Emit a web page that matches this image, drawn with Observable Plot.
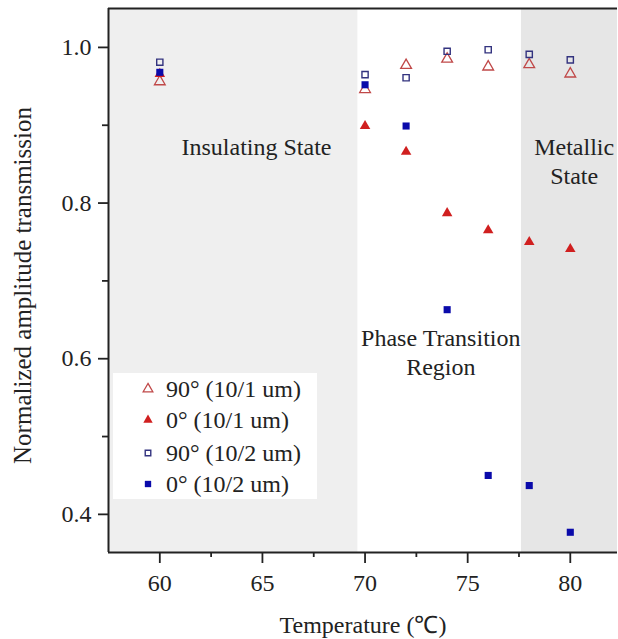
<!DOCTYPE html>
<html><head><meta charset="utf-8">
<script src="https://cdn.jsdelivr.net/npm/d3@7"></script>
<script src="https://cdn.jsdelivr.net/npm/@observablehq/plot@0.6"></script>
<style>
body{margin:0;background:#fff;}
#wrap{position:relative;width:618px;height:639px;font-family:"Liberation Serif","Times New Roman",serif;}
#legend{position:absolute;left:113px;top:373px;width:204px;height:126px;background:#fff;}
.row{position:absolute;left:0;height:30px;display:flex;align-items:center;font-size:24px;color:#222;white-space:nowrap;}
.row svg{margin-left:25px;margin-right:8px;}
</style></head><body><div id="wrap"><div id="legend"></div></div>
<script>
// ---- data ----
const temperatures = [60, 70, 72, 74, 76, 78, 80];
const open90_1um  = [0.956, 0.946, 0.977, 0.985, 0.975, 0.978, 0.966];
const solid0_1um  = [0.966, 0.899, 0.866, 0.787, 0.765, 0.750, 0.741];
const open90_2um  = [0.981, 0.965, 0.961, 0.995, 0.997, 0.991, 0.984];
const solid0_2um  = [0.968, 0.952, 0.899, 0.663, 0.450, 0.437, 0.377];
const seriesNames = ["90° (10/1 um)", "0° (10/1 um)", "90° (10/2 um)", "0° (10/2 um)"];
const xTicks = [60, 65, 70, 75, 80];
const xMinorTicks = [62.5, 67.5, 72.5, 77.5];
const yTicks = [0.4, 0.6, 0.8, 1.0];
const yMinorTicks = [0.5, 0.7, 0.9];
const regionStarts = [57.5, 77.62];
const regionEnds = [69.65, 82.3];
const regionFills = ["#efefef", "#e6e6e6"];
const annotationText = ["Insulating State", "Metallic\nState", "Phase Transition\nRegion"];
const annotationX = [64.71, 80.19, 73.69];
const annotationY = [0.874, 0.8545, 0.6096];

// ---- build tables ----
const styles = [
  {symbol: "triangle", fill: "none", stroke: "#c04848", r: 4.0, sw: 1.3},
  {symbol: "triangle", fill: "#d01f1f", stroke: "none", r: 3.9, sw: 0},
  {symbol: "square", fill: "none", stroke: "#33337f", r: 3.5, sw: 1.4},
  {symbol: "square", fill: "#0a0aaa", stroke: "none", r: 4.0, sw: 0}
];
const allValues = [open90_1um, solid0_1um, open90_2um, solid0_2um];
const seriesRows = allValues.map(vals => temperatures.map((t, i) => ({t, v: vals[i]})));
const regions = regionStarts.map((s, i) => ({x1: s, x2: regionEnds[i], fill: regionFills[i]}));
const annotations = annotationText.map((text, i) => ({text, x: annotationX[i], y: annotationY[i]}));

const xDomain = [57.5, 82.3];
const yDomain = [0.351, 1.05];
const ink = "#222";

const chart = Plot.plot({
  width: 618, height: 639,
  marginLeft: 108, marginRight: 1, marginTop: 8, marginBottom: 87,
  x: {domain: xDomain},
  y: {domain: yDomain},
  style: {fontFamily: '"Liberation Serif","Times New Roman",serif', fontSize: "24px", color: ink, background: "#fff"},
  marks: [
    Plot.rect(regions, {x1: "x1", x2: "x2", fill: "fill"}),
    Plot.axisX({ticks: xTicks, tickSize: 11, tickPadding: 10, tickFormat: d => d, fontSize: 24, label: null, strokeWidth: 1.8}),
    Plot.axisX({ticks: xMinorTicks, tickSize: 5, tickFormat: () => "", label: null, strokeWidth: 1.8}),
    Plot.axisY({ticks: yTicks, tickSize: 10, tickPadding: 7, tickFormat: d3.format(".1f"), fontSize: 24, label: null, strokeWidth: 1.8}),
    Plot.axisY({ticks: yMinorTicks, tickSize: 6, tickFormat: () => "", label: null, strokeWidth: 1.8}),
    Plot.ruleX([xDomain[0]], {stroke: ink, strokeWidth: 2}),
    Plot.ruleY(yDomain, {stroke: ink, strokeWidth: 2}),
    Plot.text(annotations, {x: "x", y: "y", text: "text", fontSize: 24, lineHeight: 1.2, fill: ink}),
    ...seriesRows.map((rows, i) => Plot.dot(rows, {
      x: "t", y: "v", symbol: styles[i].symbol, r: styles[i].r,
      fill: styles[i].fill, stroke: styles[i].stroke, strokeWidth: styles[i].sw
    })),
    Plot.text(["Temperature (℃)"], {text: d => d, frameAnchor: "bottom", textAnchor: "middle", dy: 80, fontSize: 24, fill: ink}),
    Plot.text(["Normalized amplitude transmission"], {text: d => d, frameAnchor: "left", textAnchor: "middle", dx: -86, dy: 5, rotate: -90, fontSize: 25, fill: ink})
  ]
});
const wrap = document.getElementById("wrap");
wrap.insertBefore(chart, wrap.firstChild);

// ---- legend ----
const legend = document.getElementById("legend");
const rowTops = [1, 32, 65, 96];
seriesNames.forEach((name, i) => {
  const st = styles[i];
  const row = document.createElement("div");
  row.className = "row";
  row.style.top = rowTops[i] + "px";
  const sym = st.symbol === "triangle" ? d3.symbolTriangle : d3.symbolSquare;
  const path = d3.symbol(sym, st.r * st.r * Math.PI * 0.8)();
  row.innerHTML = `<svg width="20" height="20" viewBox="-10 -10 20 20"><path d="${path}" fill="${st.fill}" stroke="${st.stroke}" stroke-width="${st.sw}"/></svg><span>${name}</span>`;
  legend.appendChild(row);
});
</script>
</body></html>
